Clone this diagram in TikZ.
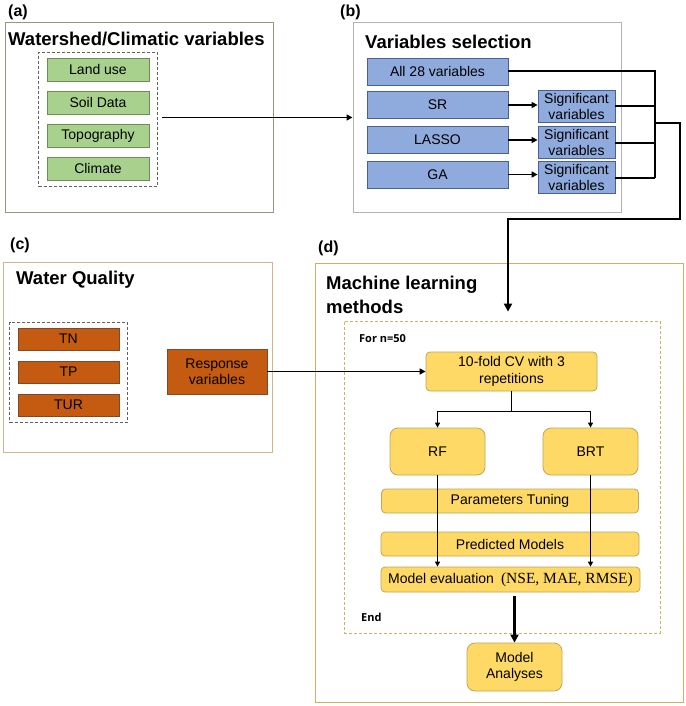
\documentclass[tikz,border=0pt]{standalone}
\usepackage{fontspec}
\setmainfont{Liberation Sans}
\newfontfamily\opensans{Open Sans}
\newfontfamily\serifpart{Liberation Serif}
\usetikzlibrary{arrows.meta,positioning,fit,calc}
\definecolor{greenfill}{HTML}{A9D18E}
\definecolor{greenline}{HTML}{6E8B5A}
\definecolor{bluefill}{HTML}{8FAADC}
\definecolor{blueline}{HTML}{4A6090}
\definecolor{orangefill}{HTML}{C55A11}
\definecolor{orangeline}{HTML}{7A4A2A}
\definecolor{yellowfill}{HTML}{FFD966}
\definecolor{yellowline}{HTML}{BFA65A}
\definecolor{panelAline}{HTML}{8C9C7C}
\definecolor{panelBline}{HTML}{B4B4B4}
\definecolor{panelCline}{HTML}{D2B48C}
\definecolor{panelDline}{HTML}{C8B464}
\definecolor{groupline}{HTML}{606060}
\tikzset{
  mybox/.style = {rectangle, draw, line width=0.8pt, inner sep=1pt, align=center, font=\fontsize{14}{16.5}\selectfont},
  mygreen/.style = {mybox, fill=greenfill, draw=greenline, minimum width=102pt, minimum height=23pt},
  myblue/.style = {mybox, fill=bluefill, draw=blueline, minimum height=27pt},
  myorange/.style = {mybox, fill=orangefill, draw=orangeline, minimum width=101pt, minimum height=22pt},
  myyellow/.style = {mybox, fill=yellowfill, draw=yellowline, rounded corners=4pt},
  mypanel/.style = {rectangle, draw, line width=1pt},
  mygroup/.style = {rectangle, draw=groupline, dash pattern=on 3pt off 2pt, line width=0.8pt},
  mytitle/.style = {anchor=west, inner sep=0pt, font=\fontsize{18.5}{24}\selectfont\bfseries, align=left},
  mylabel/.style = {anchor=west, inner sep=0pt, font=\fontsize{16}{18}\selectfont\bfseries},
  mynote/.style = {anchor=west, inner sep=0pt, font=\opensans\fontsize{11}{13}\selectfont\bfseries},
  myline/.style = {line width=2pt},
  mythin/.style = {line width=1.3pt},
  myarrow/.style = {-{Triangle[length=6pt,width=6pt]}, line width=1.9pt},
  mythinarrow/.style = {-{Triangle[length=5pt,width=5pt]}, line width=1.3pt},
  mythick/.style = {line width=2.8pt},
}
\begin{document}
\begin{tikzpicture}[x=1pt,y=-1pt]
\useasboundingbox (0,0) rectangle (685,706);
% (a) watershed / climatic
\node[mylabel] (labA) at (8,12) {(a)};
\node[mypanel, draw=panelAline, minimum width=268pt, minimum height=189pt] (panelA) at (139,117.5) {};
\node[mytitle] (titleA) at (8,39) {Watershed/Climatic variables};
\node[mygreen] (land) at (98,69.5) {Land use};
\node[mygreen] (soil) at (98,102.5) {Soil Data};
\node[mygreen] (topo) at (98,135.5) {Topography};
\node[mygreen] (clim) at (98,168.5) {Climate};
\node[mygroup, fit=(land)(clim), inner xsep=8pt, inner ysep=5.5pt] (grpA) {};
% (b) variables selection
\node[mylabel] (labB) at (340,12) {(b)};
\node[mypanel, draw=panelBline, minimum width=268pt, minimum height=189pt] (panelB) at (487,117.5) {};
\node[mytitle] (titleB) at (365,42) {Variables selection};
\node[myblue, minimum width=141pt] (all) at (437.5,71.5) {All 28 variables};
\node[myblue, minimum width=141pt] (sr) at (437.5,105) {SR};
\node[myblue, minimum width=141pt] (lasso) at (437.5,140) {LASSO};
\node[myblue, minimum width=141pt] (ga) at (437.5,174.5) {GA};
\node[myblue, minimum width=77pt, minimum height=32pt] (sigSR) at (576.5,106.5) {Significant\\variables};
\node[myblue, minimum width=77pt, minimum height=32pt] (sigLASSO) at (576.5,142.5) {Significant\\variables};
\node[myblue, minimum width=77pt, minimum height=32pt] (sigGA) at (576.5,177.5) {Significant\\variables};
\coordinate (jn) at (655,123);
\coordinate (turn) at (680,219);
\coordinate (drop) at (508,219);
% (c) water quality
\node[mylabel] (labC) at (10,245) {(c)};
\node[mypanel, draw=panelCline, minimum width=269pt, minimum height=190pt] (panelC) at (137.5,357) {};
\node[mytitle] (titleC) at (16,280) {Water Quality};
\node[myorange] (tn) at (68.5,339) {TN};
\node[myorange] (tp) at (68.5,372) {TP};
\node[myorange] (tur) at (68.5,405) {TUR};
\node[mygroup, fit=(tn)(tur), inner xsep=8pt, inner ysep=5.5pt] (grpC) {};
\node[myorange, minimum width=100pt, minimum height=45pt] (resp) at (217,371.5) {Response\\variables};
% (d) machine learning
\node[mylabel] (labD) at (318,248) {(d)};
\node[mypanel, draw=panelDline, minimum width=368pt, minimum height=439pt] (panelD) at (499,482.5) {};
\node[mytitle] (titleD) at (326,295) {Machine learning\\methods};
\node[mygroup, draw=panelDline, minimum width=316pt, minimum height=312pt] (dashD) at (502,477) {};
\node[mynote] (forN) at (359,339) {For n=50};
\node[mynote] (endN) at (361,617) {End};
\node[myyellow, minimum width=171pt, minimum height=39pt] (cv) at (511.5,371.5) {10-fold CV with 3\\repetitions};
\node[myyellow, rounded corners=8pt, minimum width=95pt, minimum height=47pt] (rf) at (437.5,451.5) {RF};
\node[myyellow, rounded corners=8pt, minimum width=95pt, minimum height=47pt] (brt) at (590.5,451.5) {BRT};
\node[myyellow, minimum width=257pt, minimum height=24pt] (tune) at (510,501) {Parameters Tuning};
\node[myyellow, minimum width=258pt, minimum height=24pt] (pred) at (510,544) {Predicted Models};
\node[myyellow, minimum width=259pt, minimum height=25pt] (evalm) at (510.5,579.5) {Model evaluation\hspace{7pt}{\serifpart\fontsize{15.5}{17}\selectfont(NSE, MAE, RMSE)}};
\node[myyellow, rounded corners=8pt, minimum width=95pt, minimum height=48pt] (analyses) at (514.5,667) {Model\\Analyses};
\coordinate (split) at ($(cv.south)+(0,20)$);
% connectors
\draw[myarrow] ($(grpA.east |- panelB.west)+(4,0)$) -- (panelB.west);
\draw[myarrow] (sr.east) -- (sr.east -| sigSR.west);
\draw[myarrow] (lasso.east) -- (lasso.east -| sigLASSO.west);
\draw[myarrow] (ga.east) -- (ga.east -| sigGA.west);
\draw[myline] (all.east) -- (all.east -| jn) -- (sigGA.east -| jn);
\draw[myline] (sigSR.east) -- (sigSR.east -| jn);
\draw[myline] (sigLASSO.east) -- (sigLASSO.east -| jn);
\draw[myline] (sigGA.east) -- (sigGA.east -| jn);
\draw[mythick, -{Triangle[length=8pt,width=8pt]}] (jn) -- (jn -| turn) -- (turn) -- (drop) -- ($(drop |- dashD.north)+(0,-9)$);
\draw[myarrow] (resp.east) -- (cv.west);
\draw[mythin] (cv.south) -- (split);
\draw[mythinarrow] (split) -| (rf.north);
\draw[mythinarrow] (split) -| (brt.north);
\draw[mythinarrow] (rf.south) -- (rf.south |- evalm.north);
\draw[mythinarrow] (brt.south) -- (brt.south |- evalm.north);
\draw[mythick, -{Triangle[length=8pt,width=8pt]}] ($(analyses.north |- evalm.south)+(0,4)$) -- (analyses.north);
\end{tikzpicture}
\end{document}
